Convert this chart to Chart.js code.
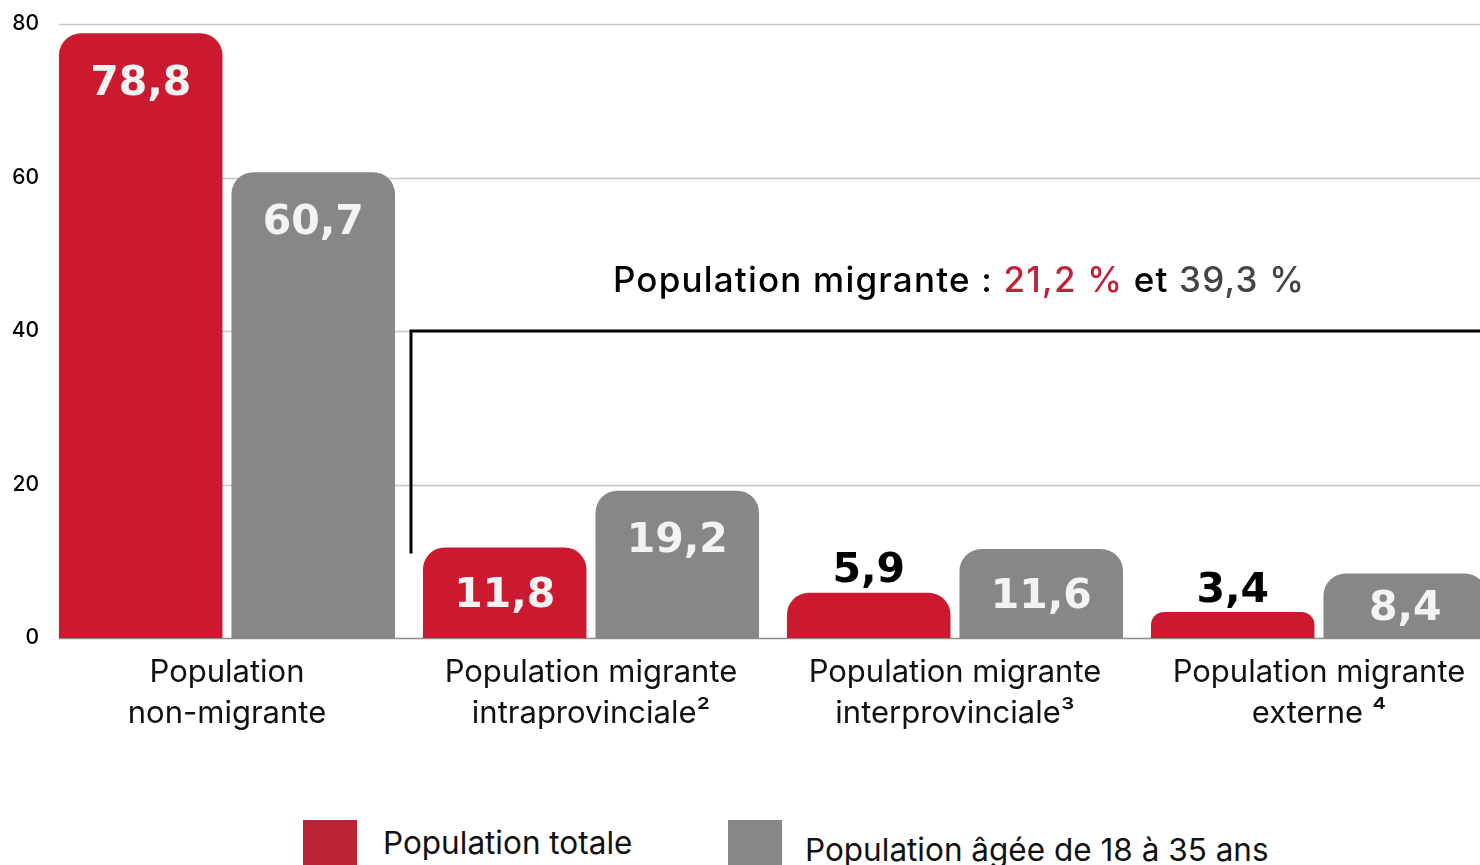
<!DOCTYPE html>
<html lang="fr">
<head>
<meta charset="utf-8">
<script src="https://cdn.jsdelivr.net/npm/chart.js@4.4.1/dist/chart.umd.min.js"></script>
<style>
  html, body { margin: 0; padding: 0; background: #fff; overflow: hidden; width: 1480px; height: 865px; }
  #wrap { position: absolute; left: 0; top: 0; width: 1501px; height: 760px; }
  .legend { position: absolute; font-family: Inter, "Open Sans", sans-serif; font-size: 31.5px; color: #111; }
  .legend .sw { position: absolute; width: 54px; height: 54px; }
  .legend span { position: absolute; white-space: nowrap; }
</style>
</head>
<body>
<div id="wrap"><canvas id="chart"></canvas></div>
<div class="legend">
  <div class="sw" style="left:303px; top:820px; background:#bc2436;"></div>
  <span style="left:383px; top:823px;">Population totale</span>
  <div class="sw" style="left:728px; top:820px; background:#878787;"></div>
  <span style="left:805px; top:830px;">Population âgée de 18 à 35 ans</span>
</div>
<script>
const categories = [
  ["Population", "non-migrante"],
  ["Population migrante", "intraprovinciale²"],
  ["Population migrante", "interprovinciale³"],
  ["Population migrante", "externe ⁴"]
];
const seriesNames = ["Population totale", "Population âgée de 18 à 35 ans"];
const totalValues = [78.8, 11.8, 5.9, 3.4];
const youngValues = [60.7, 19.2, 11.6, 8.4];
const yTicks = [0, 20, 40, 60, 80];

// bracket grouping the migrant categories
const bracketX = 0.5;
const bracketBottom = 11;
const bracketTop = 40;
const migrantTotal = "21,2 %";
const migrantYoung = "39,3 %";

const RED = "#cb1a2f";
const GREY = "#878787";

const fmt = (v) => v.toFixed(1).replace(".", ",");

const gridPlugin = {
  id: "grid",
  beforeDatasetsDraw(chart) {
    const ctx = chart.ctx;
    const y = chart.scales.y;
    const bar = chart.getDatasetMeta(0).data[0];
    const left = bar.x - bar.width / 2;
    const right = chart.chartArea.right;
    ctx.save();
    yTicks.forEach((t) => {
      const py = Math.round(y.getPixelForValue(t)) + 0.5;
      ctx.beginPath();
      ctx.strokeStyle = t === 0 ? "#8c8c8c" : "#c8c8c8";
      ctx.lineWidth = 1.5;
      ctx.moveTo(left, py);
      ctx.lineTo(right, py);
      ctx.stroke();
    });
    ctx.restore();
  }
};

const labelPlugin = {
  id: "labels",
  afterDatasetsDraw(chart) {
    const ctx = chart.ctx;
    const base = chart.scales.y.getPixelForValue(0);
    ctx.save();
    ctx.font = "bold 41px 'DejaVu Sans'";
    ctx.textAlign = "center";
    ctx.textBaseline = "middle";
    chart.data.datasets.forEach((ds, di) => {
      chart.getDatasetMeta(di).data.forEach((bar, i) => {
        const v = ds.data[i];
        const h = base - bar.y;
        let y, color;
        if (h < 60 && di === 0) {
          y = bar.y - 25;
          color = "#000";
        } else {
          y = Math.min(bar.y + 47, (bar.y + base) / 2);
          color = "#f3f3f3";
        }
        ctx.fillStyle = color;
        ctx.fillText(fmt(v), bar.x, y + 4);
      });
    });
    ctx.restore();
  }
};

const bracketPlugin = {
  id: "bracket",
  afterDatasetsDraw(chart) {
    const ctx = chart.ctx;
    const x = chart.scales.x;
    const y = chart.scales.y;
    const px = x.getPixelForValue(bracketX) + 2;
    const yb = y.getPixelForValue(bracketBottom);
    const yt = y.getPixelForValue(bracketTop);
    ctx.save();
    ctx.strokeStyle = "#000";
    ctx.lineWidth = 3;
    ctx.beginPath();
    ctx.moveTo(px, yb);
    ctx.lineTo(px, yt);
    ctx.lineTo(chart.chartArea.right, yt);
    ctx.stroke();

    const parts = [
      ["Population migrante : ", "#000"],
      [migrantTotal, "#c0223a"],
      [" et ", "#000"],
      [migrantYoung, "#444"]
    ];
    ctx.font = "500 35px Inter";
    ctx.letterSpacing = "1.2px";
    ctx.textBaseline = "alphabetic";
    const total = parts.reduce((s, p) => s + ctx.measureText(p[0]).width, 0);
    const cx = (x.getPixelForValue(2) + x.getPixelForValue(1.5)) / 2 + 95;
    let sx = cx - total / 2;
    parts.forEach(([t, c]) => {
      ctx.fillStyle = c;
      ctx.fillText(t, sx, yt - 39);
      sx += ctx.measureText(t).width;
    });
    ctx.restore();
  }
};

new Chart(document.getElementById("chart"), {
  type: "bar",
  data: {
    labels: categories,
    datasets: [
      {
        label: seriesNames[0],
        data: totalValues,
        backgroundColor: RED,
        borderRadius: { topLeft: 22, topRight: 22 },
        borderSkipped: "bottom"
      },
      {
        label: seriesNames[1],
        data: youngValues,
        backgroundColor: GREY,
        borderRadius: { topLeft: 22, topRight: 22 },
        borderSkipped: "bottom"
      }
    ]
  },
  options: {
    responsive: true,
    maintainAspectRatio: false,
    animation: false,
    layout: { padding: { top: 24, left: 0, right: 0, bottom: 0 } },
    categoryPercentage: 0.948,
    barPercentage: 0.948,
    plugins: {
      legend: { display: false },
      tooltip: { enabled: false }
    },
    scales: {
      x: {
        grid: { display: false, drawTicks: false },
        border: { display: false },
        ticks: {
          padding: 15,
          color: "#111",
          maxRotation: 0,
          autoSkip: false,
          font: { family: "Inter", size: 31, lineHeight: 1.3 }
        },
        afterFit(scale) { scale.height = 122; }
      },
      y: {
        min: 0,
        max: 80,
        grid: { display: false, drawTicks: false },
        border: { display: false },
        afterBuildTicks(scale) { scale.ticks = yTicks.map((v) => ({ value: v })); },
        ticks: {
          padding: 6,
          color: "#000",
          font: { family: "Inter", size: 21, weight: "500" }
        },
        afterFit(scale) { scale.width = 45; }
      }
    }
  },
  plugins: [gridPlugin, labelPlugin, bracketPlugin]
});
</script>
</body>
</html>
